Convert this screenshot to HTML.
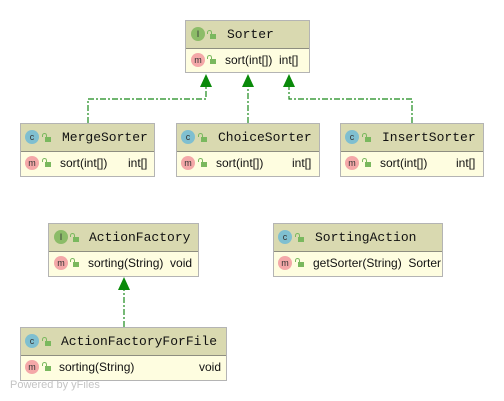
<!DOCTYPE html>
<html><head><meta charset="utf-8"><style>
body{margin:0;width:504px;height:401px;background:#fff;position:relative;overflow:hidden;font-family:"Liberation Sans",sans-serif}
.b{position:absolute;border:1px solid #b4b4b4;background:#fefde0;box-sizing:border-box}
.h{height:28px;background:#d9d9b0;border-bottom:1px solid #8e8e80;position:relative;box-sizing:border-box}
.r{height:24px;position:relative}
.ic{position:absolute;width:14px;height:14px;border-radius:50%;font:9px "Liberation Sans",sans-serif;text-align:center;line-height:14px;color:#333}
.c{background:#7fbfd0}.i{background:#8cbc68}.m{background:#f4a8a8}
.lk{position:absolute;width:6px;height:5px;background:#7ab85e}
.lk:before{content:"";position:absolute;left:-3px;top:-4px;width:3px;height:3px;border:1px solid #7ab85e;border-bottom:none;border-radius:3px 3px 0 0}
.n{position:absolute;top:6px;font:13px "Liberation Mono",monospace;color:#111}
.t{position:absolute;top:4px;font:12px "Liberation Sans",sans-serif;color:#111}
</style></head><body>
<div style="position:absolute;left:10px;top:379px;font:11px 'Liberation Sans',sans-serif;color:#c4c4c4">Powered by yFiles</div>
<svg width="504" height="401" style="position:absolute;left:0;top:0">
<g stroke="#1a8a1a" stroke-width="1.2" fill="none" stroke-dasharray="6,2,2,2">
<polyline points="88,123 88,99 206,99 206,86"/>
<polyline points="248,123 248,86"/>
<polyline points="412,123 412,99 289,99 289,86"/>
<polyline points="124,327 124,289"/>
</g>
<g fill="#0a8a0a">
<polygon points="206,74 200,87 212,87"/>
<polygon points="248,74 242,87 254,87"/>
<polygon points="289,74 283,87 295,87"/>
<polygon points="124,277 118,290 130,290"/>
</g>
</svg>

<div class="b" style="left:185px;top:20px;width:125px;height:53px">
<div class="h"><div class="ic i" style="left:5px;top:6px">I</div><div class="lk" style="left:24px;top:13px"></div><div class="n" style="left:41px">Sorter</div></div>
<div class="r"><div class="ic m" style="left:5px;top:4px">m</div><div class="lk" style="left:24px;top:10px"></div><div class="t" style="left:39px">sort(int[])&nbsp; int[]</div></div>
</div>

<div class="b" style="left:20px;top:123px;width:135px;height:54px">
<div class="h"><div class="ic c" style="left:4px;top:6px">c</div><div class="lk" style="left:24px;top:13px"></div><div class="n" style="left:41px">MergeSorter</div></div>
<div class="r"><div class="ic m" style="left:4px;top:4px">m</div><div class="lk" style="left:24px;top:10px"></div><div class="t" style="left:39px">sort(int[])</div><div class="t" style="left:107px">int[]</div></div>
</div>

<div class="b" style="left:176px;top:123px;width:144px;height:54px">
<div class="h"><div class="ic c" style="left:4px;top:6px">c</div><div class="lk" style="left:24px;top:13px"></div><div class="n" style="left:41px">ChoiceSorter</div></div>
<div class="r"><div class="ic m" style="left:4px;top:4px">m</div><div class="lk" style="left:24px;top:10px"></div><div class="t" style="left:39px">sort(int[])</div><div class="t" style="left:115px">int[]</div></div>
</div>

<div class="b" style="left:340px;top:123px;width:144px;height:54px">
<div class="h"><div class="ic c" style="left:4px;top:6px">c</div><div class="lk" style="left:24px;top:13px"></div><div class="n" style="left:41px">InsertSorter</div></div>
<div class="r"><div class="ic m" style="left:4px;top:4px">m</div><div class="lk" style="left:24px;top:10px"></div><div class="t" style="left:39px">sort(int[])</div><div class="t" style="left:115px">int[]</div></div>
</div>

<div class="b" style="left:48px;top:223px;width:151px;height:54px">
<div class="h"><div class="ic i" style="left:5px;top:6px">I</div><div class="lk" style="left:24px;top:13px"></div><div class="n" style="left:40px">ActionFactory</div></div>
<div class="r"><div class="ic m" style="left:5px;top:4px">m</div><div class="lk" style="left:24px;top:10px"></div><div class="t" style="left:39px">sorting(String)&nbsp; void</div></div>
</div>

<div class="b" style="left:273px;top:223px;width:170px;height:54px">
<div class="h"><div class="ic c" style="left:4px;top:6px">c</div><div class="lk" style="left:24px;top:13px"></div><div class="n" style="left:41px">SortingAction</div></div>
<div class="r"><div class="ic m" style="left:4px;top:4px">m</div><div class="lk" style="left:24px;top:10px"></div><div class="t" style="left:39px">getSorter(String)&nbsp; Sorter</div></div>
</div>

<div class="b" style="left:20px;top:327px;width:207px;height:54px">
<div class="h"><div class="ic c" style="left:4px;top:6px">c</div><div class="lk" style="left:24px;top:13px"></div><div class="n" style="left:40px">ActionFactoryForFile</div></div>
<div class="r"><div class="ic m" style="left:4px;top:4px">m</div><div class="lk" style="left:24px;top:10px"></div><div class="t" style="left:38px">sorting(String)</div><div class="t" style="left:178px">void</div></div>
</div>
</body></html>
